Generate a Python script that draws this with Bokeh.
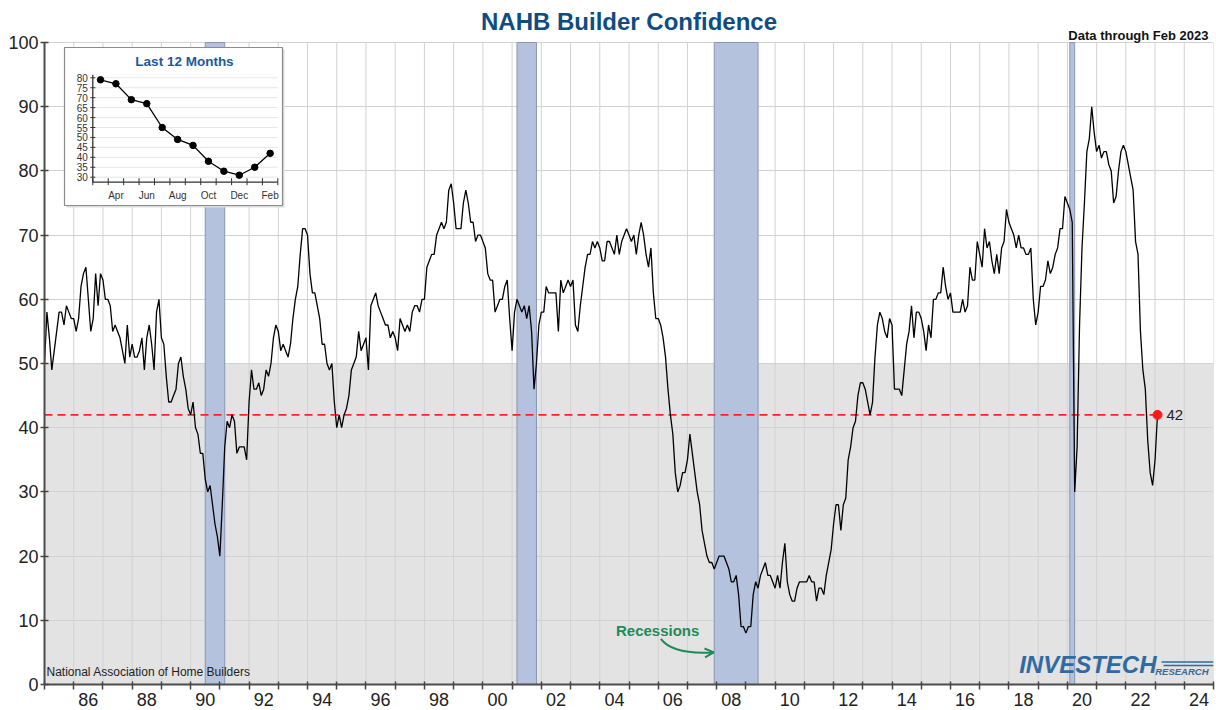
import numpy as np
from bokeh.plotting import figure
from bokeh.models import Range1d, FixedTicker, Label, Arrow, OpenHead, CustomJSTickFormatter
from bokeh.core.properties import value
from bokeh.embed import file_html
from bokeh.resources import INLINE

# ---------------- data (NAHB Housing Market Index, monthly) ----------------
FIRST_YEAR = 1985
hmi_1985 = [50, 58, 54, 49, 52, 55, 58, 58, 56, 59, 58, 57]
hmi_1986 = [57, 55, 57, 62, 64, 65, 60, 55, 57, 64, 59, 64]
hmi_1987 = [63, 60, 60, 59, 55, 56, 55, 54, 52, 50, 56, 51]
hmi_1988 = [53, 51, 51, 52, 54, 49, 54, 56, 53, 49, 58, 60]
hmi_1989 = [54, 53, 48, 44, 44, 45, 46, 50, 51, 48, 46, 43]
hmi_1990 = [42, 44, 40, 39, 36, 36, 32, 30, 31, 28, 25, 23]
hmi_1991 = [20, 28, 37, 41, 40, 42, 41, 36, 37, 37, 37, 35]
hmi_1992 = [44, 49, 46, 46, 47, 45, 46, 49, 48, 50, 54, 56]
hmi_1993 = [55, 52, 53, 52, 51, 53, 57, 60, 62, 67, 71, 71]
hmi_1994 = [70, 64, 61, 61, 59, 57, 53, 53, 50, 49, 50, 44]
hmi_1995 = [40, 42, 40, 42, 43, 45, 49, 50, 51, 55, 52, 53]
hmi_1996 = [54, 49, 59, 60, 61, 59, 58, 57, 56, 56, 54, 55]
hmi_1997 = [54, 52, 57, 56, 55, 56, 55, 58, 59, 59, 58, 60]
hmi_1998 = [60, 65, 66, 67, 67, 70, 71, 72, 71, 72, 77, 78]
hmi_1999 = [75, 71, 71, 71, 75, 77, 75, 72, 72, 69, 70, 70]
hmi_2000 = [69, 68, 64, 63, 63, 58, 59, 60, 60, 62, 63, 57]
hmi_2001 = [52, 58, 60, 59, 58, 59, 57, 59, 55, 46, 50, 56]
hmi_2002 = [58, 58, 62, 61, 61, 61, 61, 55, 63, 61, 62, 63]
hmi_2003 = [62, 63, 56, 55, 59, 62, 65, 67, 67, 69, 68, 69]
hmi_2004 = [68, 66, 66, 69, 69, 68, 67, 70, 67, 69, 70, 71]
hmi_2005 = [70, 69, 70, 67, 70, 72, 70, 67, 65, 68, 61, 57]
hmi_2006 = [57, 56, 54, 51, 46, 42, 39, 33, 30, 31, 33, 33]
hmi_2007 = [35, 39, 36, 33, 30, 28, 24, 22, 20, 19, 19, 18]
hmi_2008 = [19, 20, 20, 20, 19, 18, 16, 16, 17, 14, 9, 9]
hmi_2009 = [8, 9, 9, 14, 16, 15, 17, 18, 19, 17, 17, 16]
hmi_2010 = [15, 17, 15, 19, 22, 16, 14, 13, 13, 15, 16, 16]
hmi_2011 = [16, 16, 17, 16, 16, 13, 15, 15, 14, 17, 19, 21]
hmi_2012 = [25, 28, 28, 24, 28, 29, 35, 37, 40, 41, 45, 47]
hmi_2013 = [47, 46, 44, 42, 44, 51, 56, 58, 57, 55, 54, 57]
hmi_2014 = [56, 46, 46, 46, 45, 49, 53, 55, 59, 54, 58, 58]
hmi_2015 = [57, 55, 52, 56, 54, 60, 60, 61, 61, 65, 62, 60]
hmi_2016 = [61, 58, 58, 58, 58, 60, 58, 59, 65, 63, 63, 69]
hmi_2017 = [67, 65, 71, 68, 69, 66, 64, 67, 64, 68, 69, 74]
hmi_2018 = [72, 71, 70, 68, 70, 68, 68, 67, 67, 68, 60, 56]
hmi_2019 = [58, 62, 62, 63, 66, 64, 65, 67, 68, 71, 71, 76]
hmi_2020 = [75, 74, 72, 30, 37, 56, 68, 75, 83, 85, 90, 86]
hmi_2021 = [83, 84, 82, 83, 83, 81, 80, 75, 76, 80, 83, 84]
hmi_2022 = [83, 81, 79, 77, 69, 67, 55, 49, 46, 38, 33, 31]
hmi_2023 = [35, 42]

# recessions (start year, start month) / (end year, end month)
recession_starts = [(1990, 7), (2001, 3), (2007, 12), (2020, 2)]
recession_ends = [(1991, 3), (2001, 11), (2009, 6), (2020, 4)]

inset_month_names = ["Mar", "Apr", "May", "Jun", "Jul", "Aug",
                     "Sep", "Oct", "Nov", "Dec", "Jan", "Feb"]
inset_y_ticks = [30, 35, 40, 45, 50, 55, 60, 65, 70, 75, 80]
main_y_ticks = [0, 10, 20, 30, 40, 50, 60, 70, 80, 90, 100]
x_start, x_end = 1985, 2025
y_min, y_max = 0, 100

years_lists = [hmi_1985, hmi_1986, hmi_1987, hmi_1988, hmi_1989, hmi_1990, hmi_1991,
               hmi_1992, hmi_1993, hmi_1994, hmi_1995, hmi_1996, hmi_1997, hmi_1998,
               hmi_1999, hmi_2000, hmi_2001, hmi_2002, hmi_2003, hmi_2004, hmi_2005,
               hmi_2006, hmi_2007, hmi_2008, hmi_2009, hmi_2010, hmi_2011, hmi_2012,
               hmi_2013, hmi_2014, hmi_2015, hmi_2016, hmi_2017, hmi_2018, hmi_2019,
               hmi_2020, hmi_2021, hmi_2022, hmi_2023]
hmi = [v for yl in years_lists for v in yl]
dates = [FIRST_YEAR + i / 12.0 for i in range(len(hmi))]
last_x, last_v = dates[-1], hmi[-1]

rec_left = [y + (m - 1) / 12.0 for y, m in recession_starts]
rec_right = [y + (m - 1) / 12.0 for y, m in recession_ends]
year_lines = list(range(x_start, x_end + 1))

FONT = "Liberation Sans"

# ---------------- layout constants (page pixels) ----------------
FIG_W, FIG_H = 1216, 710
B_L, B_R, B_B = 44, 3, 26
PLOT_TOP = 42                      # page y where value 100 sits
fl, fr, ft, fb = B_L, FIG_W - B_R, 0, FIG_H - B_B
y_top = y_max * (fb - ft) / (fb - PLOT_TOP)   # frame extends above 100 to hold the title


def mx(px):   # page x -> main data x (for decorations only)
    return x_start + (px - fl) * (x_end - x_start) / (fr - fl)


def my(py):   # page y -> main data y (for decorations only)
    return (fb - py) * y_max / (fb - PLOT_TOP)


p = figure(width=FIG_W, height=FIG_H, x_range=Range1d(x_start, x_end), y_range=Range1d(y_min, y_top),
           output_backend="svg", toolbar_location=None,
           min_border_left=B_L, min_border_right=B_R, min_border_top=0, min_border_bottom=B_B)
p.background_fill_color = "white"
p.border_fill_color = "white"
p.outline_line_color = None

# grids
p.xgrid.visible = False
p.ygrid.ticker = FixedTicker(ticks=main_y_ticks)
p.ygrid.grid_line_color = "#d2d2d2"
p.ygrid.grid_line_width = 1
p.segment(x0=year_lines, x1=year_lines, y0=y_min, y1=y_max, line_color="#d2d2d2",
          line_width=1, level="underlay")

# axes
xa = p.xaxis[0]
xa.ticker = FixedTicker(ticks=[y + 0.5 for y in range(1986, 2025, 2)], minor_ticks=year_lines)
xa.formatter = CustomJSTickFormatter(code="const y = Math.floor(tick) % 100; return (y < 10 ? '0' : '') + y;")
xa.major_tick_in = 0
xa.major_tick_out = 0
xa.major_tick_line_color = None
xa.minor_tick_in = 3
xa.minor_tick_out = 5
xa.minor_tick_line_color = "#444444"
xa.minor_tick_line_width = 1.5
xa.major_label_standoff = 3
ya = p.yaxis[0]
ya.ticker = FixedTicker(ticks=main_y_ticks)
ya.bounds = (y_min, y_max)
ya.major_tick_in = 4
ya.major_tick_out = 4
ya.major_tick_line_color = "#444444"
ya.major_tick_line_width = 1.5
ya.minor_tick_line_color = None
ya.major_label_standoff = 2
for ax in (xa, ya):
    ax.axis_line_color = "#4d4d4d"
    ax.axis_line_width = 2
    ax.major_label_text_font = FONT
    ax.major_label_text_font_size = "18px"
    ax.major_label_text_color = "#222222"

# grey band below 50
p.quad(left=[x_start], right=[x_end], bottom=[0], top=[50], fill_color="#e3e3e3",
       line_color=None, level="image")

# recession bands
p.quad(left=rec_left, right=rec_right, bottom=y_min, top=y_max, fill_color="#b5c2dd",
       line_color="#8796b8", line_width=1)

# reference line at latest value
p.line(x=[dates[0], last_x], y=[last_v, last_v], line_color="#ff2020", line_width=1.8,
       line_dash="8 5")

# main series
p.line(x=dates, y=hmi, line_color="black", line_width=1.3)

# latest point
p.scatter(x=[last_x], y=[last_v], size=9, fill_color="#ff1a1a", line_color="#ff1a1a")
p.text(x=[last_x], y=[last_v], text=[str(last_v)], x_offset=9, text_baseline="middle",
       text_align="left", text_font=value(FONT), text_font_size="15px", text_color="#222222")

# Recessions annotation
GREEN = "#1e8c56"
p.add_layout(Label(x=2005.98, y=8.4, text="Recessions", text_align="center", text_baseline="middle",
                   text_font=FONT, text_font_size="15px", text_font_style="bold", text_color=GREEN))
p.quadratic(x0=[2006.09], y0=[7.1], x1=[2007.9], y1=[5.0], cx=[2006.5], cy=[4.6],
            line_color=GREEN, line_width=2)
p.add_layout(Arrow(end=OpenHead(size=9, line_color=GREEN, line_width=2),
                   x_start=2007.76, y_start=4.96, x_end=2007.9, y_end=5.0,
                   line_color=GREEN, line_width=2))

# source text
p.add_layout(Label(x=x_start, y=0, x_offset=2, y_offset=6, text="National Association of Home Builders",
                   text_font=FONT, text_font_size="12px", text_color="#222222"))

# logo
LOGO = "#2f6aa3"
p.segment(x0=[mx(1161), mx(1163)], x1=[mx(1213), mx(1213)], y0=[my(661.5), my(665)],
          y1=[my(661.5), my(665)], line_color=LOGO, line_width=1.6)
p.add_layout(Label(x=x_end, y=0, x_offset=-57, y_offset=7, text="INVESTECH", text_align="right",
                   text_font=FONT, text_font_size="24px", text_font_style="bold italic", text_color=LOGO))
p.add_layout(Label(x=x_end, y=0, x_offset=-5, y_offset=8, text="RESEARCH", text_align="right",
                   text_font=FONT, text_font_size="9.5px", text_font_style="bold italic", text_color=LOGO))

# title and note (inside the frame's top margin area)
p.add_layout(Label(x=(x_start + x_end) / 2, y=y_max, y_offset=21, text="NAHB Builder Confidence",
                   text_align="center", text_baseline="middle", text_font=FONT,
                   text_font_size="24px", text_font_style="bold", text_color="#0f4c81"))
p.add_layout(Label(x=x_end, y=y_max, x_offset=-5, y_offset=7, text="Data through Feb 2023",
                   text_align="right", text_baseline="alphabetic", text_font=FONT,
                   text_font_size="13px", text_font_style="bold", text_color="#111111"))

# ---------------- inset: last 12 months ----------------
IN_X0, IN_DX = 92.3, 15.42     # page x of month -0.5, px per month
IN_Y30, IN_DY = 176.7, 1.988   # page y of value 30, px per unit


def im(px):
    return -0.5 + (px - IN_X0) / IN_DX


def iv(py):
    return 30 + (IN_Y30 - py) / IN_DY


p.extra_x_ranges = {"ix": Range1d(im(fl), im(fr))}
p.extra_y_ranges = {"iy": Range1d(iv(fb), iv(ft))}
R = dict(x_range_name="ix", y_range_name="iy")

inset_vals = hmi[-12:]
inset_idx = list(range(len(inset_vals)))

# box with soft shadow
p.quad(left=[im(66)], right=[im(284)], top=[iv(49)], bottom=[iv(207)],
       fill_color="#dcdcdc", line_color=None, **R)
p.quad(left=[im(64)], right=[im(282)], top=[iv(47)], bottom=[iv(205)],
       fill_color="white", line_color="#8c8c8c", line_width=1.2, **R)

x_lo, x_hi = -0.5, len(inset_vals) - 0.5
y_lo, y_hi = iv(181.7), iv(74.3)
# inset gridlines
p.segment(x0=[x_lo] * len(inset_y_ticks), x1=[x_hi] * len(inset_y_ticks), y0=inset_y_ticks,
          y1=inset_y_ticks, line_color="#e6e6e6", line_width=1, **R)
# inset axes
p.segment(x0=[x_lo, x_lo], x1=[x_lo, x_hi], y0=[y_lo, y_lo], y1=[y_hi, y_lo],
          line_color="#333333", line_width=1.3, **R)
tk = 2.5 / IN_DX
p.segment(x0=[x_lo - tk] * len(inset_y_ticks), x1=[x_lo + tk] * len(inset_y_ticks),
          y0=inset_y_ticks, y1=inset_y_ticks, line_color="#333333", line_width=1, **R)
xt = [x_lo + k for k in range(len(inset_vals) + 1)]
p.segment(x0=xt, x1=xt, y0=[y_lo - 3 / IN_DY] * len(xt), y1=[y_lo + 4 / IN_DY] * len(xt),
          line_color="#333333", line_width=1, **R)
p.text(x=[x_lo - 5 / IN_DX] * len(inset_y_ticks), y=inset_y_ticks, text=[str(t) for t in inset_y_ticks],
       text_align="right", text_baseline="middle", text_font=value(FONT), text_font_size="10px",
       text_color="#333333", **R)
lab_idx = [i for i in inset_idx if i % 2 == 1]
p.text(x=lab_idx, y=[iv(195)] * len(lab_idx), text=[inset_month_names[i] for i in lab_idx],
       text_align="center", text_baseline="middle", text_font=value(FONT), text_font_size="10px",
       text_color="#333333", **R)
p.text(x=[im(184)], y=[iv(61)], text=["Last 12 Months"], text_align="center", text_baseline="middle",
       text_font=value(FONT), text_font_size="13.5px", text_font_style="bold", text_color="#1b5a96", **R)
# inset series
p.line(x=inset_idx, y=inset_vals, line_color="black", line_width=1.3, **R)
p.scatter(x=inset_idx, y=inset_vals, size=6.5, fill_color="black", line_color="black", **R)

open("out.html", "w").write(file_html(p, INLINE))
